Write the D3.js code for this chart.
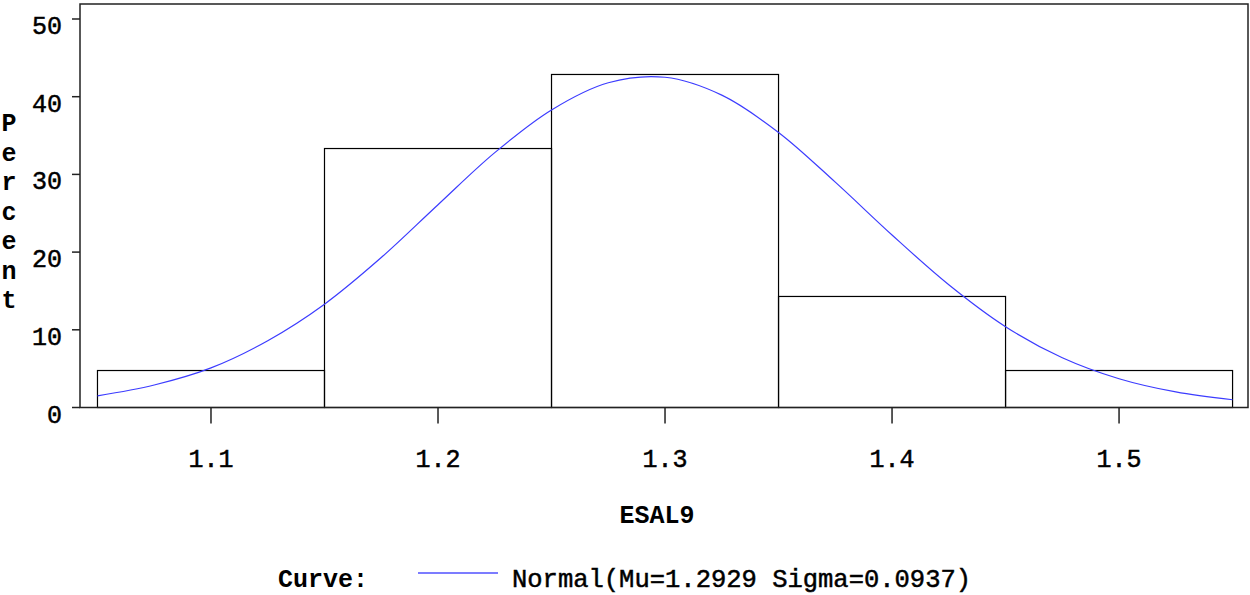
<!DOCTYPE html>
<html>
<head>
<meta charset="utf-8">
<script src="https://cdn.jsdelivr.net/npm/d3@7"></script>
<style>
  body { margin: 0; background: #fff; }
  svg text { font-family: "Liberation Mono", "Courier New", monospace; fill: #000; }
  svg text.thick { stroke: #000; stroke-width: 0.5px; }
</style>
</head>
<body>
<div id="chart"></div>
<script>
// histogram bins (ESAL9 midpoints) and percent per bin
const binStarts = [1.05, 1.15, 1.25, 1.35, 1.45];
const binWidth = 0.1;
const binPercents = [4.76, 33.33, 42.86, 14.29, 4.76];

// fitted normal curve
const curveX = [1.05, 1.075, 1.10, 1.125, 1.15, 1.175, 1.20, 1.225, 1.25, 1.275, 1.30,
                1.325, 1.35, 1.375, 1.40, 1.425, 1.45, 1.475, 1.50, 1.525, 1.55];
const curveY = [1.5, 2.9, 5.1, 8.6, 13.3, 19.3, 26.1, 32.8, 38.3, 41.8, 42.5,
                40.2, 35.4, 29.0, 22.2, 15.8, 10.4, 6.4, 3.7, 2.0, 1.0];

const xTicks = [1.1, 1.2, 1.3, 1.4, 1.5];
const yTicks = [0, 10, 20, 30, 40, 50];
const legendText = "Normal(Mu=1.2929 Sigma=0.0937)";

const width = 1250;
const height = 595;
const frame = { left: 80, right: 1248, top: 4, bottom: 407.5 };

const svg = d3.select("#chart")
  .append("svg")
  .attr("width", width)
  .attr("height", height);

const xScale = d3.scaleLinear()
  .domain([1.0423, 1.5568])
  .range([frame.left, frame.right]);

const yScale = d3.scaleLinear()
  .domain([0, 51.93])
  .range([frame.bottom, frame.top]);

// bars
svg.append("g")
  .selectAll("rect")
  .data(binStarts)
  .join("rect")
  .attr("x", (d) => xScale(d))
  .attr("y", (d, i) => yScale(binPercents[i]))
  .attr("width", (d) => xScale(d + binWidth) - xScale(d))
  .attr("height", (d, i) => yScale(0) - yScale(binPercents[i]))
  .attr("fill", "none")
  .attr("stroke", "#000")
  .attr("stroke-width", 1.2);

// normal curve
const line = d3.line()
  .x((d, i) => xScale(curveX[i]))
  .y((d) => yScale(d))
  .curve(d3.curveCatmullRom);

svg.append("path")
  .attr("d", line(curveY))
  .attr("fill", "none")
  .attr("stroke", "#3c3cff")
  .attr("stroke-width", 1.2);

// frame
svg.append("rect")
  .attr("x", frame.left)
  .attr("y", frame.top)
  .attr("width", frame.right - frame.left)
  .attr("height", frame.bottom - frame.top)
  .attr("fill", "none")
  .attr("stroke", "#222")
  .attr("stroke-width", 1.5);

// y axis
const yAxis = svg.append("g");
yAxis.selectAll("line")
  .data(yTicks)
  .join("line")
  .attr("x1", frame.left - 8)
  .attr("x2", frame.left)
  .attr("y1", (d) => yScale(d))
  .attr("y2", (d) => yScale(d))
  .attr("stroke", "#222")
  .attr("stroke-width", 1.5);
yAxis.selectAll("text")
  .data(yTicks)
  .join("text")
  .attr("class", "thick")
  .attr("x", 62)
  .attr("y", (d) => yScale(d) + 15)
  .attr("text-anchor", "end")
  .attr("font-size", 25)
  .text((d) => d);

// x axis
const xAxis = svg.append("g");
xAxis.selectAll("line")
  .data(xTicks)
  .join("line")
  .attr("x1", (d) => xScale(d))
  .attr("x2", (d) => xScale(d))
  .attr("y1", frame.bottom)
  .attr("y2", frame.bottom + 16)
  .attr("stroke", "#222")
  .attr("stroke-width", 1.5);
xAxis.selectAll("text")
  .data(xTicks)
  .join("text")
  .attr("class", "thick")
  .attr("x", (d) => xScale(d))
  .attr("y", 467)
  .attr("text-anchor", "middle")
  .attr("font-size", 25)
  .text((d) => d3.format(".1f")(d));

// axis labels
svg.append("text")
  .attr("x", 657)
  .attr("y", 523)
  .attr("text-anchor", "middle")
  .attr("font-size", 25)
  .attr("font-weight", "bold")
  .text("ESAL9");

svg.append("g")
  .selectAll("text")
  .data("Percent".split(""))
  .join("text")
  .attr("x", 9)
  .attr("y", (d, i) => 131 + i * 29.5)
  .attr("text-anchor", "middle")
  .attr("font-size", 25)
  .attr("font-weight", "bold")
  .text((d) => d);

// legend
const legend = svg.append("g");
legend.append("text")
  .attr("x", 278)
  .attr("y", 587)
  .attr("font-size", 25)
  .attr("font-weight", "bold")
  .text("Curve:");
legend.append("line")
  .attr("x1", 418)
  .attr("x2", 498)
  .attr("y1", 573)
  .attr("y2", 573)
  .attr("stroke", "#5050ff")
  .attr("stroke-width", 1.5);
legend.append("text")
  .attr("class", "thick")
  .attr("x", 512)
  .attr("y", 587)
  .attr("font-size", 25.5)
  .text(legendText);
</script>
</body>
</html>
